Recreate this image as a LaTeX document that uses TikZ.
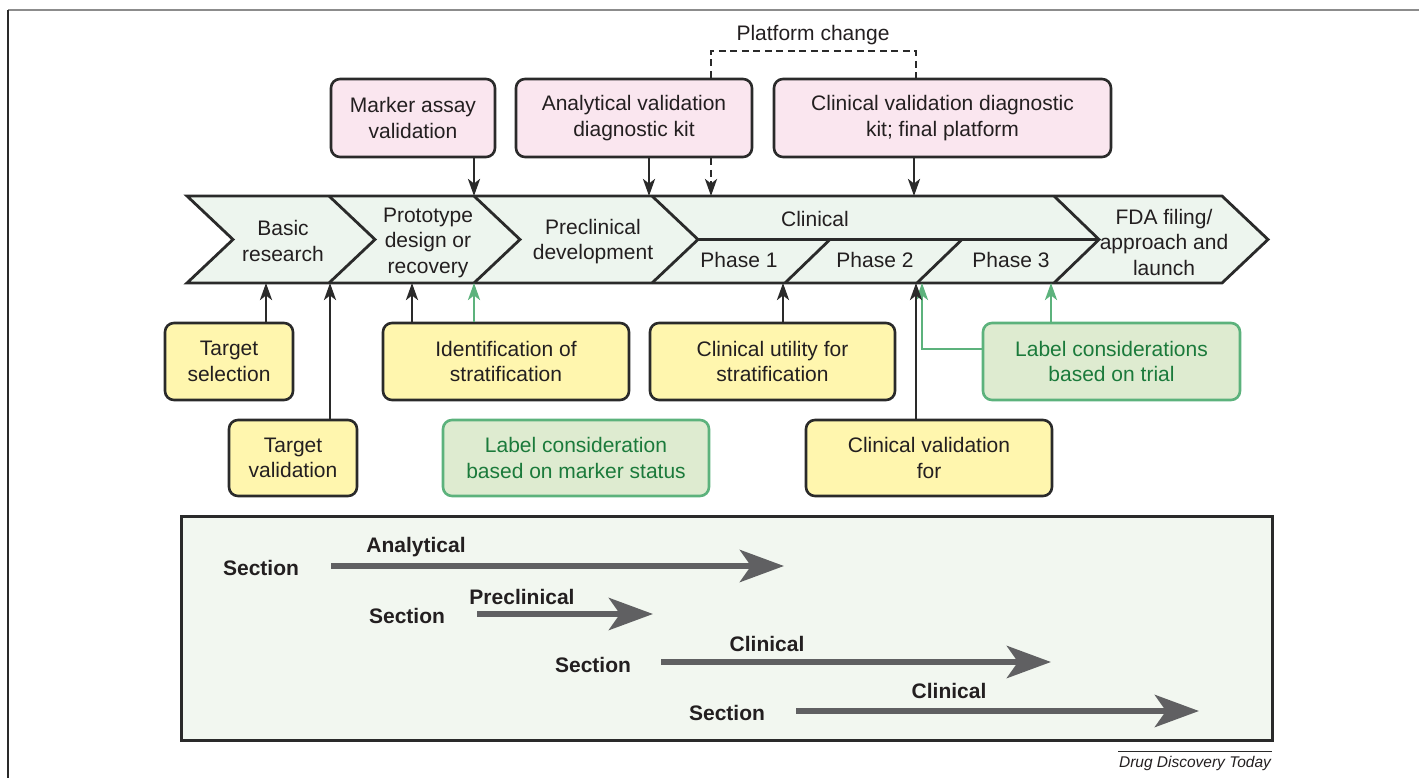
\documentclass[tikz,border=0pt]{standalone}
\usepackage{fontspec}
\setmainfont{Liberation Sans}
\usetikzlibrary{arrows.meta}
\definecolor{ink}{HTML}{2A2A2A}
\definecolor{txt}{HTML}{231F20}
\definecolor{pinkfill}{HTML}{FAE6EF}
\definecolor{yelfill}{HTML}{FFF6AE}
\definecolor{grnfill}{HTML}{DEEBD0}
\definecolor{grnline}{HTML}{5CB27C}
\definecolor{grntext}{HTML}{1B7A3B}
\definecolor{bandfill}{HTML}{EDF5EE}
\definecolor{legfill}{HTML}{F2F7F0}
\definecolor{leggray}{HTML}{606062}
\definecolor{framegray}{HTML}{8C8C8C}
\tikzset{
  lbl/.style={font=\fontsize{21}{25.5}\selectfont, text=txt, align=center, inner sep=0pt},
  boxbase/.style={rounded corners=9pt, line width=2.6pt, inner sep=0pt, align=center,
    font=\fontsize{21}{25.5}\selectfont, text=txt},
  pinkbox/.style={boxbase, draw=ink, fill=pinkfill},
  yelbox/.style={boxbase, draw=ink, fill=yelfill},
  grnbox/.style={boxbase, draw=grnline, fill=grnfill, text=grntext},
  conn/.style={line width=2.8pt, draw=ink, -{Stealth[length=17pt,width=12pt,inset=4.5pt]}},
  gconn/.style={line width=2.8pt, draw=grnline, -{Stealth[length=17pt,width=12pt,inset=4.5pt]}},
  dconn/.style={line width=2.6pt, draw=ink, dash pattern=on 7pt off 4.5pt},
  bandline/.style={line width=2.8pt, draw=ink, line join=miter},
  legarrow/.style={line width=6.5pt, draw=leggray, -{Stealth[length=44pt,width=32pt,inset=11pt]}},
  sec/.style={font=\bfseries\fontsize{21}{25}\selectfont, text=txt, inner sep=0pt},
}
\begin{document}
\begin{tikzpicture}[x=1pt,y=-1pt]
\useasboundingbox (0,0) rectangle (1419,778);
% frame
\draw[framegray, line width=2pt] (8,10) -- (1419,10);
\draw[ink, line width=1.8pt] (8,10) -- (8,778);

% ---- chevron band ----
\draw[bandline, fill=bandfill] (187,196) -- (1222,196) -- (1268,239.5) -- (1222,283)
  -- (187,283) -- (233,239.5) -- cycle;
\draw[bandline] (329,196) -- (375,239.5) -- (329,283);
\draw[bandline] (474,196) -- (520,239.5) -- (474,283);
\draw[bandline] (652,196) -- (698,239.5) -- (652,283);
\draw[bandline] (1054,196) -- (1099,239.5) -- (1054,283);
\draw[bandline] (698,239.5) -- (1099,239.5);
\draw[bandline] (785,283) -- (830,239.5);
\draw[bandline] (917,283) -- (962,239.5);

\node[lbl] (basic) at (283,241) {Basic\\research};
\node[lbl] (proto) at (428,242.5) {Prototype\\design or\\recovery};
\node[lbl] (precl) at (593,241.5) {Preclinical\\development};
\node[lbl] (clinical) at (815,219) {Clinical};
\node[lbl] (ph1) at (739,260) {Phase 1};
\node[lbl] (ph2) at (875,260) {Phase 2};
\node[lbl] (ph3) at (1011,260) {Phase 3};
\node[lbl] (fda) at (1164,242) {FDA filing/\\approach and\\launch};

% ---- top boxes ----
\node[pinkbox, minimum width=164pt, minimum height=78pt] (marker) at (413,118) {Marker assay\\validation};
\node[pinkbox, minimum width=236pt, minimum height=78pt] (anal) at (634,118) {Analytical validation\\diagnostic kit};
\node[pinkbox, minimum width=337pt, minimum height=78pt] (clinv) at (942.5,118) {Clinical validation diagnostic\\kit; final platform};
\node[lbl] (platform) at (813,35) {Platform change};

\coordinate (tA) at (474,196);
\coordinate (tB) at (649,196);
\coordinate (tC) at (711,196);
\coordinate (tD) at (914,196);
\coordinate (pcL) at (711,51);
\coordinate (pcR) at (916,51);
\draw[conn] (marker.south -| tA) -- (tA);
\draw[conn] (anal.south -| tB) -- (tB);
\draw[conn] (clinv.south -| tD) -- (tD);
\draw[dconn] (anal.north -| pcL) -- (pcL) -- (pcR) -- (clinv.north -| pcR);
\draw[dconn, -{Stealth[length=17pt,width=12pt,inset=4.5pt]}] (anal.south -| tC) -- (tC);

% ---- bottom boxes ----
\node[yelbox, minimum width=128pt, minimum height=77pt] (tsel) at (229,361.5) {Target\\selection};
\node[yelbox, minimum width=128pt, minimum height=76pt] (tval) at (293,458) {Target\\validation};
\node[yelbox, minimum width=246pt, minimum height=77pt] (ident) at (506,361.5) {Identification of\\stratification};
\node[yelbox, minimum width=245pt, minimum height=77pt] (cutil) at (772.5,361.5) {Clinical utility for\\stratification};
\node[yelbox, minimum width=246pt, minimum height=76pt] (cval) at (929,458) {Clinical validation\\for};
\node[grnbox, minimum width=257pt, minimum height=77pt] (ltrial) at (1111.5,361.5) {Label considerations\\based on trial};
\node[grnbox, minimum width=266pt, minimum height=76pt] (lmark) at (576,458) {Label consideration\\based on marker status};

\coordinate (b1) at (266,283);
\coordinate (b2) at (330,283);
\coordinate (b3) at (412,283);
\coordinate (b4) at (474,283);
\coordinate (b5) at (783,283);
\coordinate (b6) at (916,283);
\coordinate (b7) at (922,283);
\coordinate (b8) at (1051,283);
\coordinate (gk) at (922,349);
\draw[conn] (tsel.north -| b1) -- (b1);
\draw[conn] (tval.north -| b2) -- (b2);
\draw[conn] (ident.north -| b3) -- (b3);
\draw[gconn] (ident.north -| b4) -- (b4);
\draw[conn] (cutil.north -| b5) -- (b5);
\draw[gconn] (ltrial.west |- gk) -- (gk) -- (b7);
\draw[conn] (cval.north -| b6) -- (b6);
\draw[gconn] (ltrial.north -| b8) -- (b8);

% ---- legend ----
\node[draw=ink, fill=legfill, line width=3pt, minimum width=1091pt, minimum height=224pt, inner sep=0pt] (legend) at (726.5,628) {};
\node[sec] (s1) at (261,568) {Section};
\node[sec] (s2) at (407,616) {Section};
\node[sec] (s3) at (593,665) {Section};
\node[sec] (s4) at (727,713) {Section};
\node[sec] (l1) at (416,547) {Analytical};
\node[sec] (l2) at (522,597) {Preclinical};
\node[sec] (l3) at (767,644) {Clinical};
\node[sec] (l4) at (949,691) {Clinical};
\coordinate (a1s) at (331,566); \coordinate (a1e) at (784,566);
\coordinate (a2s) at (477,614); \coordinate (a2e) at (653,614);
\coordinate (a3s) at (661,662); \coordinate (a3e) at (1051,662);
\coordinate (a4s) at (796,711); \coordinate (a4e) at (1199,711);
\draw[legarrow] (a1s) -- (a1e);
\draw[legarrow] (a2s) -- (a2e);
\draw[legarrow] (a3s) -- (a3e);
\draw[legarrow] (a4s) -- (a4e);

% ---- footer ----
\coordinate (fl) at (1118,751);
\coordinate (fr) at (1272,751);
\draw[ink, line width=0.8pt] (fl) -- (fr);
\node[font=\itshape\fontsize{15.5}{18}\selectfont, text=txt, inner sep=0pt] (journal) at (1195,763) {Drug Discovery Today};
\end{tikzpicture}
\end{document}
